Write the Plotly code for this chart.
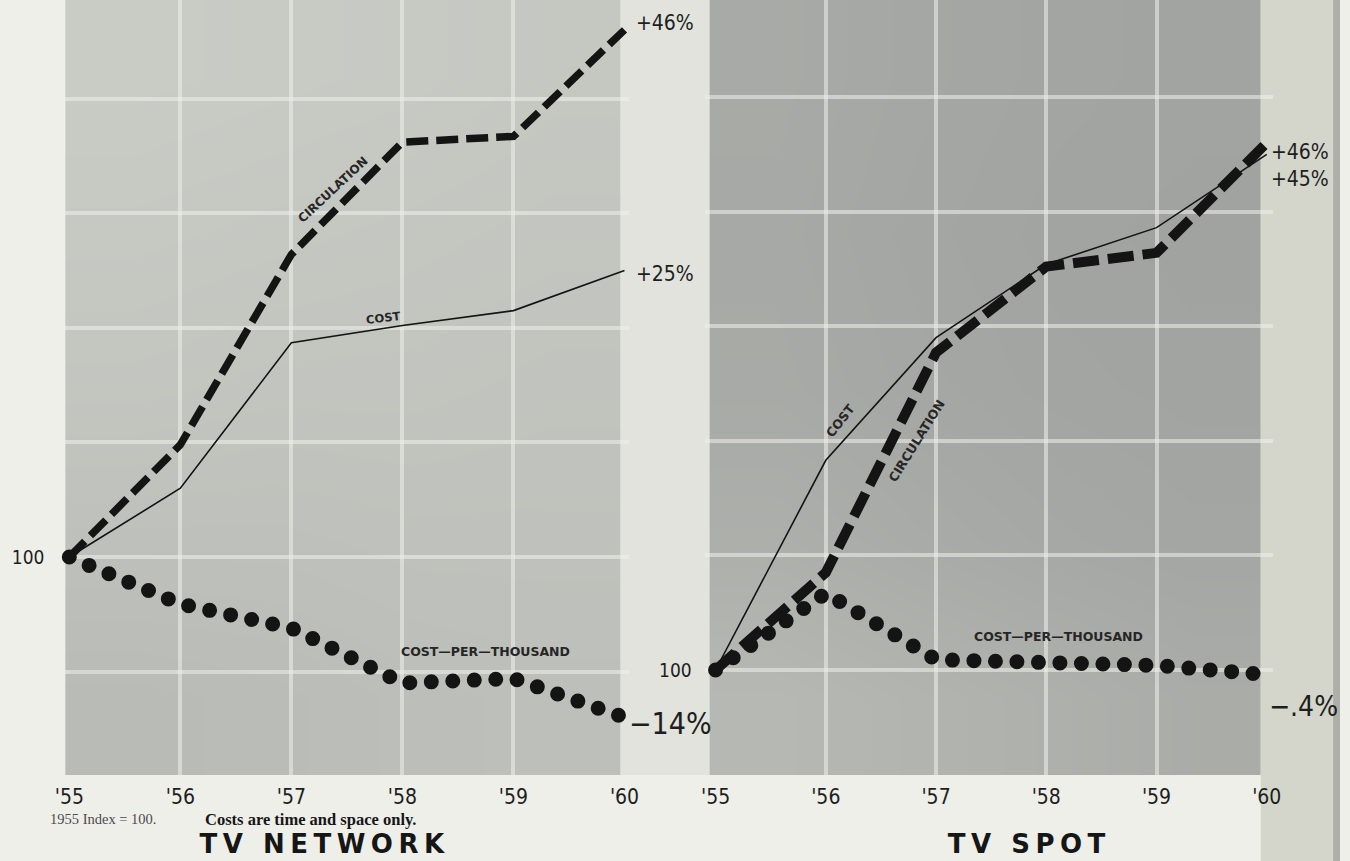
import plotly.graph_objects as go

W, H = 1350, 861

# ---- data: 1955 index = 100 ----
years = [1955, 1956, 1957, 1958, 1959, 1960]
year_labels = ["'55", "'56", "'57", "'58", "'59", "'60"]

network_circulation = [100, 109.8, 126.4, 136.2, 136.7, 146]
network_cost = [100, 106.0, 118.7, 120.2, 121.5, 125]
network_cpm = [100, 95.9, 93.8, 89.0, 89.4, 86]

spot_circulation = [100, 108.5, 127.7, 135.2, 136.4, 146]
spot_cost = [100, 118.3, 129.0, 135.4, 138.6, 145]
spot_cpm = [100, 106.7, 100.9, 100.6, 100.4, 99.6]

network_end_labels = ["+46%", "+25%", "\u221214%"]
spot_end_labels = ["+46%", "+45%", "\u2212.4%"]

panel_titles = ["TV NETWORK", "TV SPOT"]
series_names = ["CIRCULATION", "COST", "COST\u2014PER\u2014THOUSAND"]
footnote_a = "1955 Index = 100."
footnote_b = "Costs are time and space only."

# ---- geometry / style ----
COND = "DejaVu Sans Condensed, DejaVu Sans, sans-serif"
SANS = "DejaVu Sans, sans-serif"
SERIF = "Liberation Serif, DejaVu Serif, serif"
INK = "#141414"
GRID = "rgba(238,239,234,0.56)"
PLOT_BOTTOM = 775
PX_PER_UNIT = 11.46


def fx(px):
    return px / W


def fy(py):
    return 1 - py / H


panels = [
    dict(dom=(54, 632), first=66, last=627, gray=(62, 623), y100=557,
         grid=[90, 110, 120, 130, 140],
         shade=[[201, 200, 199, 197],
                [198, 197, 196, 195],
                [195, 194, 194, 193],
                [190, 190, 191, 191],
                [185, 186, 188, 189]]),
    dict(dom=(708, 1282), first=719, last=1276, gray=(713, 1270), y100=670,
         grid=[110, 120, 130, 140, 150],
         shade=[[168, 165, 163, 162],
                [167, 164, 162, 161],
                [168, 165, 163, 162],
                [173, 169, 166, 164],
                [182, 178, 174, 170]]),
]

for p in panels:
    ppy = (p["last"] - p["first"]) / 5.0
    p["ppy"] = ppy
    p["xr"] = [1955 - (p["first"] - p["dom"][0]) / ppy,
               1960 + (p["dom"][1] - p["last"]) / ppy]
    p["yr"] = [100 - (PLOT_BOTTOM - p["y100"]) / PX_PER_UNIT,
               100 + p["y100"] / PX_PER_UNIT]

fig = go.Figure()

# soft grey backing of each chart (own subplot, carries the year labels)
GRAY_LO, GRAY_HI = 150, 216
for i, p in enumerate(panels):
    rows = p["shade"][::-1]
    ncol = len(rows[0])
    a, b = p["gray"]
    step = (b - a) / ncol
    xc = [p["xr"][0] + (a + (k + 0.5) * step - p["dom"][0]) / p["ppy"] for k in range(ncol)]
    yc = [k + 0.5 for k in range(len(rows))]
    z = [[(g - GRAY_LO) / (GRAY_HI - GRAY_LO) for g in r] for r in rows]
    sfx = "" if i == 0 else "2"
    fig.add_trace(go.Heatmap(
        x=xc, y=yc, z=z, zmin=0, zmax=1, zsmooth="best", showscale=False,
        colorscale=[[0, "rgb(150,152,150)"], [1, "rgb(216,218,211)"]],
        hoverinfo="skip", xaxis="x" + sfx, yaxis="y" + sfx))

# index lines
series = [
    (network_circulation, network_cost, network_cpm, "x3", "y3", 7.5, "22px,8px"),
    (spot_circulation, spot_cost, spot_cpm, "x4", "y4", 10, "26px,9px"),
]
for circ, cost, cpm, xa, ya, cw, cdash in series:
    fig.add_trace(go.Scatter(x=years, y=cpm, mode="lines", xaxis=xa, yaxis=ya,
                             line=dict(color=INK, width=15, dash="0px,21.5px"),
                             hoverinfo="skip"))
    fig.add_trace(go.Scatter(x=years, y=cost, mode="lines", xaxis=xa, yaxis=ya,
                             line=dict(color=INK, width=1.6), hoverinfo="skip"))
    fig.add_trace(go.Scatter(x=years, y=circ, mode="lines", xaxis=xa, yaxis=ya,
                             line=dict(color=INK, width=cw, dash=cdash),
                             hoverinfo="skip"))

layout_axes = {}
for i, p in enumerate(panels):
    n_bg = "" if i == 0 else "2"
    n_dt = "3" if i == 0 else "4"
    xdom = [fx(p["dom"][0]), fx(p["dom"][1])]
    ydom = [fy(PLOT_BOTTOM), 1]
    layout_axes["xaxis" + n_bg] = dict(
        domain=xdom, range=p["xr"], anchor="y" + n_bg, tickmode="array",
        tickvals=years, ticktext=year_labels, showgrid=False, zeroline=False,
        showline=False, ticks="", ticklabelstandoff=7, fixedrange=True,
        tickfont=dict(family=COND, size=21, color="#1e1e1e"))
    layout_axes["yaxis" + n_bg] = dict(
        domain=ydom, range=[0, len(p["shade"])], anchor="x" + n_bg,
        visible=False, fixedrange=True)
    layout_axes["xaxis" + n_dt] = dict(
        domain=xdom, range=p["xr"], anchor="y" + n_dt, tickmode="array",
        tickvals=years[1:-1], showticklabels=False, showgrid=True,
        gridcolor=GRID, gridwidth=4, zeroline=False, showline=False,
        ticks="", fixedrange=True)
    layout_axes["yaxis" + n_dt] = dict(
        domain=ydom, range=p["yr"], anchor="x" + n_dt, tickmode="array",
        tickvals=[100], ticktext=["100"], showgrid=True, gridcolor=GRID,
        gridwidth=4, zeroline=False, showline=False, ticks="",
        ticklabelstandoff=12, fixedrange=True,
        tickfont=dict(family=COND, size=19, color="#1e1e1e"),
        minor=dict(tickmode="array", tickvals=p["grid"], showgrid=True,
                   gridcolor=GRID, gridwidth=4))

# page pieces around the two charts
shapes = [
    dict(type="rect", xref="paper", yref="paper", layer="below",
         x0=fx(623), x1=fx(713), y0=fy(PLOT_BOTTOM), y1=1,
         fillcolor="rgb(226,227,221)", line=dict(width=0)),
    dict(type="rect", xref="paper", yref="paper", layer="below",
         x0=fx(1270), x1=fx(1343), y0=0, y1=1,
         fillcolor="rgb(212,214,204)", line=dict(width=0)),
    dict(type="rect", xref="paper", yref="paper", layer="below",
         x0=fx(1343), x1=1, y0=0, y1=1,
         fillcolor="rgb(174,176,168)", line=dict(width=0)),
]

ann = []


def label(text, px, py, size=12, angle=0, family=SANS, weight=700,
          color="#262626", xanchor="center", yanchor="middle"):
    ann.append(dict(text=text, x=fx(px), y=fy(py), xref="paper", yref="paper",
                    showarrow=False, textangle=angle, xanchor=xanchor,
                    yanchor=yanchor,
                    font=dict(family=family, size=size, color=color,
                              weight=weight)))


# series names written along the curves
label(series_names[0], 332, 190, size=12, angle=-43)
label(series_names[1], 383, 318, size=11.5, angle=-7)
label(series_names[2], 487, 651, size=12.5)
label(series_names[1], 845, 420, size=12.5, angle=-52)
label(series_names[0], 922, 440, size=12.5, angle=-58)
label(series_names[2], 1066, 636, size=12.5)

# end-of-line percentage changes, pinned to the 1960 values
ends = [
    ("x3", "y3", network_circulation[-1], network_end_labels[0], 9, 7, 21),
    ("x3", "y3", network_cost[-1], network_end_labels[1], 9, -3, 21),
    ("x3", "y3", network_cpm[-1], network_end_labels[2], 2, -6, 30),
    ("x4", "y4", spot_circulation[-1], spot_end_labels[0], 2, -9, 21),
    ("x4", "y4", spot_cost[-1], spot_end_labels[1], 2, -25, 21),
    ("x4", "y4", spot_cpm[-1], spot_end_labels[2], 0, -32, 28),
]
for xa, ya, val, text, xs, ys, size in ends:
    ann.append(dict(text=text, x=years[-1], y=val, xref=xa, yref=ya,
                    showarrow=False, xanchor="left", yanchor="middle",
                    xshift=xs, yshift=ys,
                    font=dict(family=COND, size=size, color="#1e1e1e")))

# footnote and panel titles
label(footnote_a, 44, 819, size=14.5, family=SERIF, weight=400,
      color="#4a4a4a", xanchor="left")
label(footnote_b, 201, 819, size=16.5, family=SERIF, weight=700,
      color="#161616", xanchor="left")
label(panel_titles[0], 324, 861, size=26, family=SANS, weight=700,
      color="#161616", yanchor="bottom")
label(panel_titles[1], 1036, 861, size=26, family=SANS, weight=700,
      color="#161616", yanchor="bottom")

fig.update_layout(
    width=W, height=H, autosize=False,
    margin=dict(l=0, r=0, t=0, b=0, pad=0),
    paper_bgcolor="rgb(239,239,234)",
    plot_bgcolor="rgba(0,0,0,0)",
    showlegend=False, hovermode=False,
    shapes=shapes, annotations=ann,
    **layout_axes,
)

# round dots for the cost-per-thousand lines; extended lettering for the titles
page_js = """
var gd = document.getElementById('{plot_id}');
var wide = ['TV NETWORK', 'TV SPOT'];
function finish() {
  gd.querySelectorAll('path.js-line').forEach(function (p) {
    var d = (p.style.strokeDasharray || '').replace(/\\s/g, '');
    if (d.indexOf('0px,') === 0) { p.style.strokeLinecap = 'round'; }
  });
  gd.querySelectorAll('.annotation-text').forEach(function (t) {
    if (wide.indexOf(t.textContent) >= 0) { t.style.letterSpacing = '5.5px'; }
  });
}
finish();
gd.on('plotly_afterplot', finish);
"""

fig.write_html("out.html", post_script=page_js, config={"displayModeBar": False})
